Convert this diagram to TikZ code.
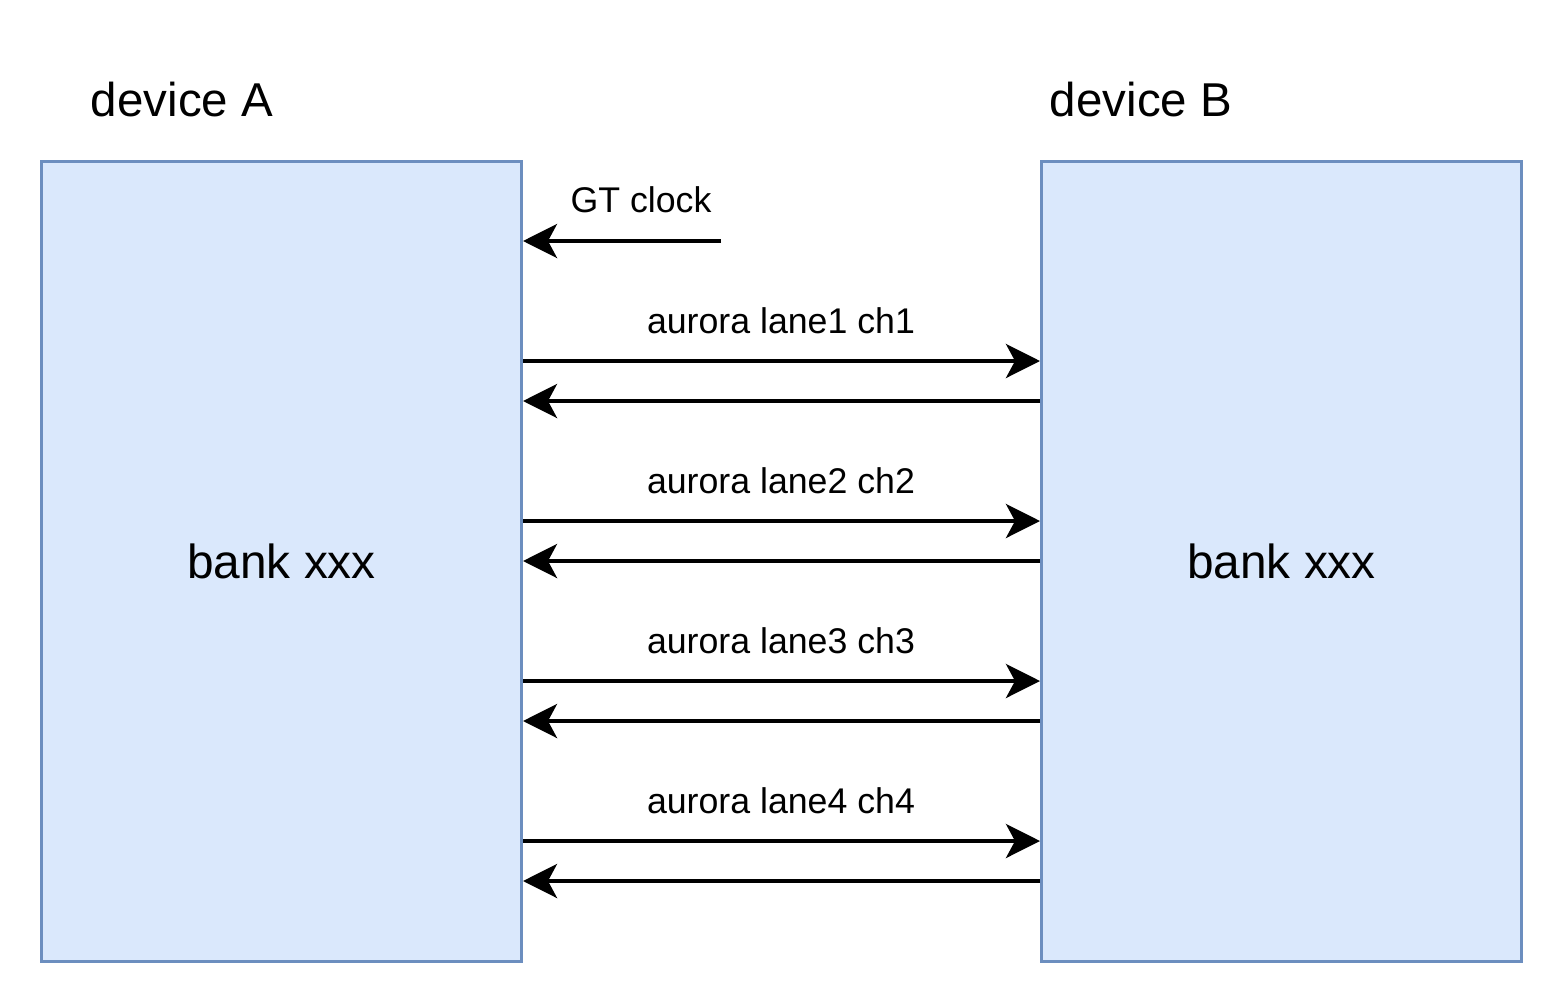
\documentclass[tikz,border=0pt]{standalone}
\usepackage{fontspec}
\setmainfont{Liberation Sans}
\usetikzlibrary{arrows.meta}
\definecolor{boxfill}{HTML}{DAE8FC}
\definecolor{boxline}{HTML}{6C8EBF}
\tikzset{
  bank/.style={draw=boxline, fill=boxfill, line width=3pt, minimum width=480pt, minimum height=800pt, inner sep=0pt, font=\fontsize{47.8}{56}\selectfont},
  title/.style={font=\fontsize{47.5}{56}\selectfont, inner sep=0pt},
  lbl/.style={font=\fontsize{35.7}{42}\selectfont, inner sep=0pt},
  sig/.style={line width=4pt, -{Stealth[length=34pt, width=34pt, inset=9pt]}, shorten >=0pt}
}
\begin{document}
\begin{tikzpicture}[x=1pt, y=-1pt]
\useasboundingbox (0,0) rectangle (1564,1004);
\node[bank] (A) at (281.5,561.5) {bank xxx};
\node[bank] (B) at (1281.5,561.5) {bank xxx};
\node[title] (tA) at (182,100) {device A};
\node[title] (tB) at (1141,100) {device B};
\coordinate (clk) at (721,241);
\node[lbl] (lclk) at (641,200) {GT clock};
\draw[sig] (clk) -- (A.east |- clk);
\foreach \y/\n in {361/1, 521/2, 681/3, 841/4}{
  \node[lbl] (l\n) at (781,\y-40) {aurora lane\n{} ch\n};
  \draw[sig] (A.east |- 0,\y) -- (B.west |- 0,\y);
  \draw[sig] (B.west |- 0,\y+40) -- (A.east |- 0,\y+40);
}
\end{tikzpicture}
\end{document}
